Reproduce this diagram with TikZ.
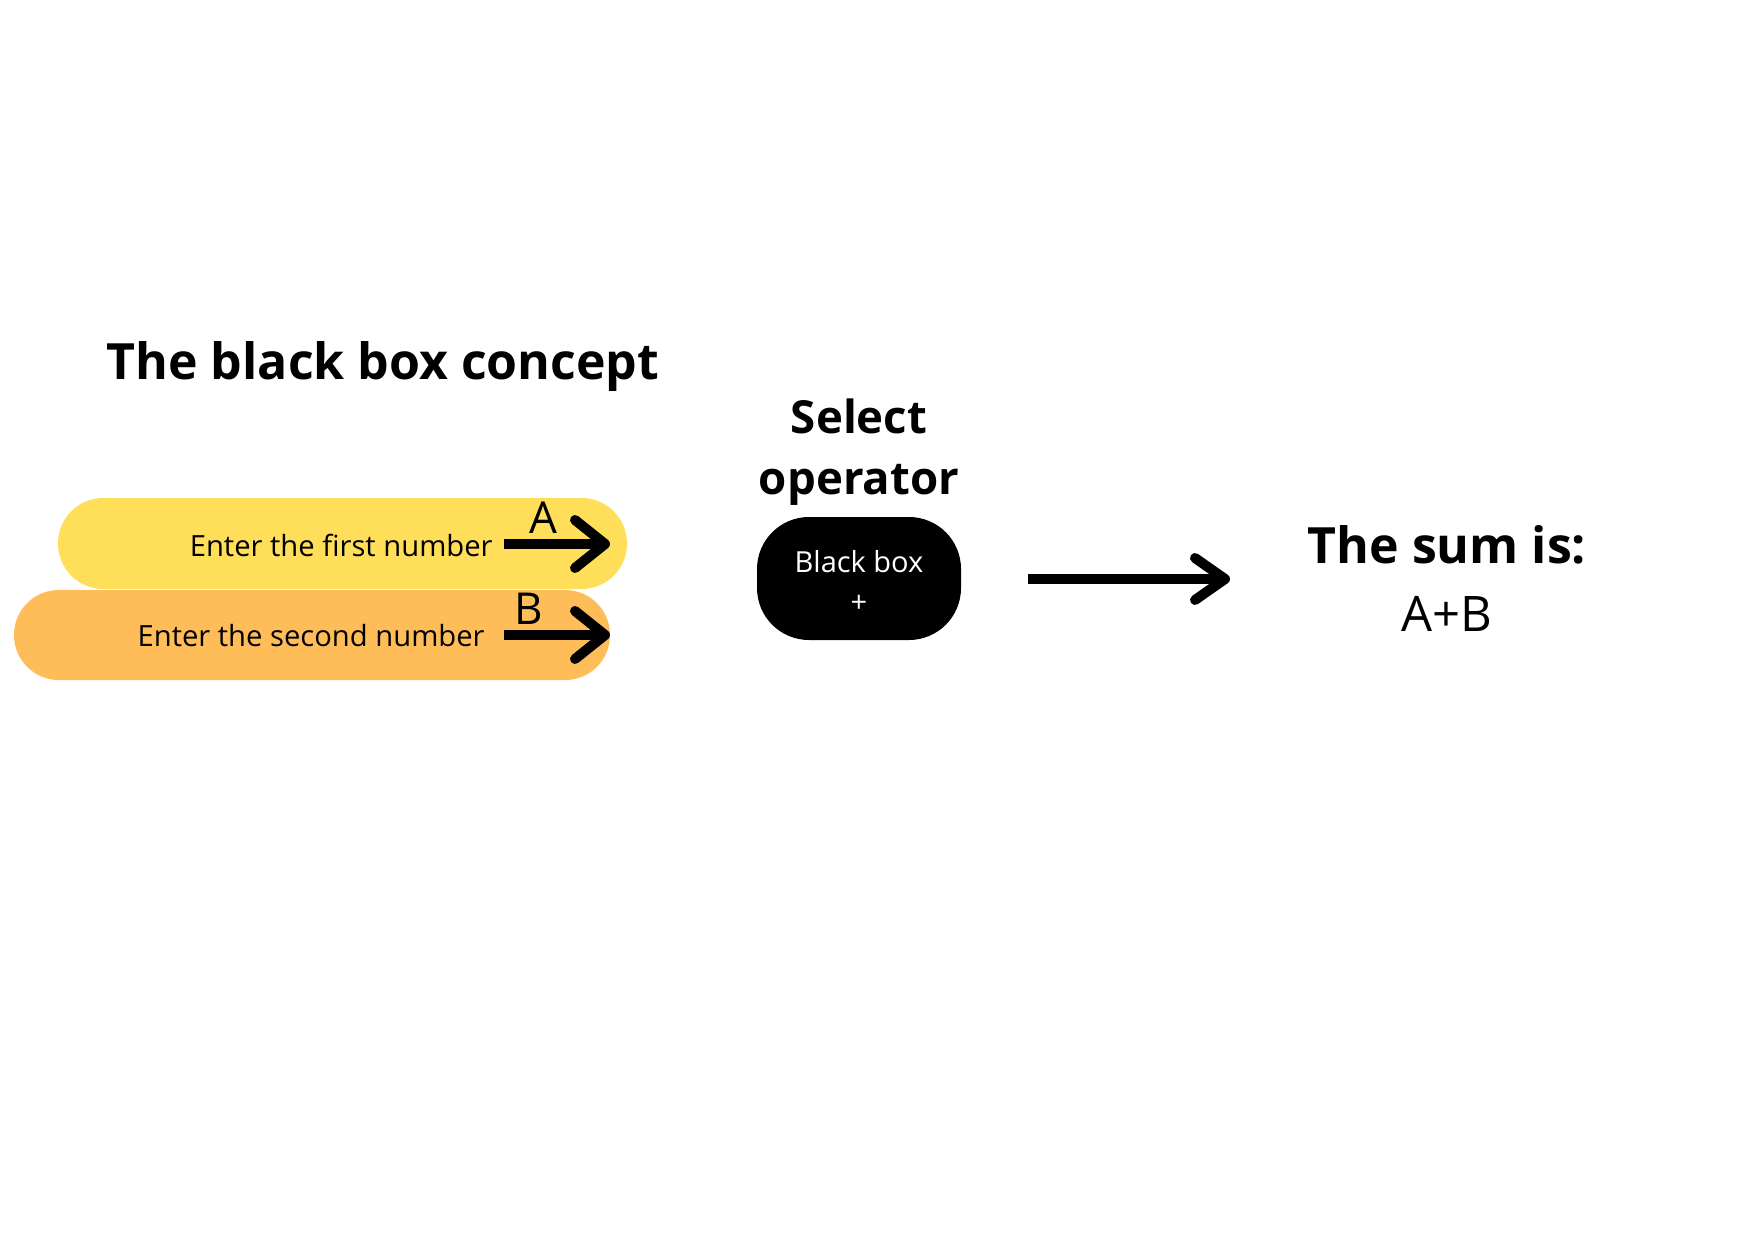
\documentclass[tikz,border=0pt]{standalone}
\usepackage{fontspec}
\setmainfont{Open Sans}
\usetikzlibrary{arrows.meta}
\definecolor{yel}{HTML}{FFDE59}
\definecolor{ora}{HTML}{FFBD59}
\tikzset{
  pill/.style={rectangle, inner sep=0pt, minimum width=#1},
  fat/.style={line width=5pt, -{Straight Barb[round, length=15pt, width=24pt]}},
  lbl/.style={inner sep=0pt, anchor=center},
}
\begin{document}
\begin{tikzpicture}[x=0.5pt, y=-0.5pt]
\useasboundingbox (0,0) rectangle (1748,1240);
% pills
\node[pill=284.5pt, minimum height=45.5pt, fill=yel, rounded corners=22.7pt] (yp) at (342.5,543.5) {};
\node[pill=298pt, minimum height=45pt, fill=ora, rounded corners=22.4pt] (op) at (312,635) {};
\node[pill=102pt, minimum height=61.5pt, fill=black, rounded corners=26pt] (bb) at (859,578.5) {};
% texts
\node[lbl, font=\fontsize{25}{30}\selectfont\bfseries] (title) at (383,367) {The black box concept};
\node[lbl, anchor=east, font=\fontsize{14.6}{18}\selectfont] (t1) at (493,545) {Enter the first number};
\node[lbl, anchor=east, font=\fontsize{14.6}{18}\selectfont] (t2) at (485,636) {Enter the second number};
\node[lbl, font=\fontsize{22}{26}\selectfont] (la) at (543,518) {A};
\node[lbl, font=\fontsize{22}{26}\selectfont] (lb) at (529,609) {B};
\node[lbl, font=\fontsize{22.8}{30.5}\selectfont\bfseries, align=center] (sel) at (859,452) {Select\\operator};
\node[lbl, text=white, font=\fontsize{14.5}{20}\selectfont, align=center] (bbt) at (859,581) {Black box\\+};
\node[lbl, font=\fontsize{25}{30}\selectfont\bfseries] (sum) at (1447,545) {The sum is:};
\node[lbl, font=\fontsize{24.5}{30}\selectfont] (ab) at (1447,614) {A+B};
% arrows
\coordinate (a1) at (504,544);
\coordinate (a2) at (610,544);
\coordinate (b1) at (504,635);
\coordinate (b2) at (610,635);
\coordinate (c1) at (1028,579);
\coordinate (c2) at (1230,579);
\draw[fat] (a1) -- (a2);
\draw[fat] (b1) -- (b2);
\draw[line width=5pt, -{Straight Barb[round, length=15pt, width=21pt]}] (c1) -- (c2);
\end{tikzpicture}
\end{document}
